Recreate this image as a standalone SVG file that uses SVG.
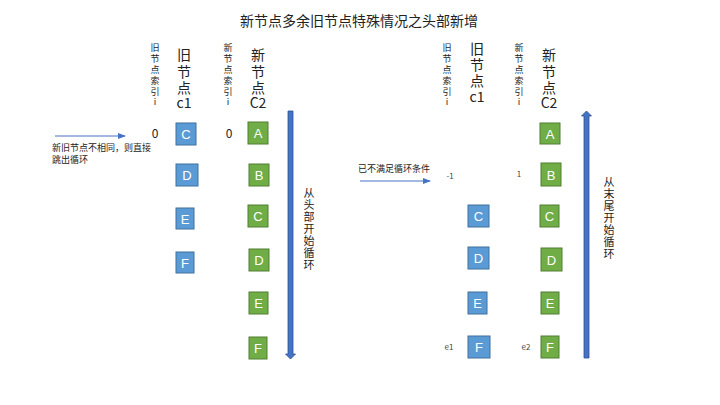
<svg xmlns="http://www.w3.org/2000/svg" width="720" height="405" viewBox="0 0 720 405">
<defs>
<style>
text{font-family:"Noto Sans CJK SC","Liberation Sans",sans-serif;fill:#222}
.title{font-size:14px}
.sm{font-size:9px}
.lg{font-size:14px}
.num{font-size:12px}
.tiny{font-size:8px;fill:#444}
.ob rect{fill:#5B9BD5;stroke:#41719C;stroke-width:1}
.nb rect{fill:#70AD47;stroke:#507E32;stroke-width:1}
.box text{fill:#fff;font-size:13px;text-anchor:middle;font-family:"Liberation Sans","Noto Sans CJK SC",sans-serif}
.v{text-anchor:middle}
</style>
<marker id="ah" markerWidth="8" markerHeight="6" refX="7" refY="3" orient="auto" markerUnits="userSpaceOnUse">
<path d="M0,0 L8,3 L0,6 z" fill="#4472C4"/>
</marker>
</defs>
<rect width="720" height="405" fill="#fff"/>
<text class="title" x="359" y="26" text-anchor="middle">新节点多余旧节点特殊情况之头部新增</text>

<!-- Left headers -->
<g id="left-headers">
<text class="sm v"><tspan x="155" y="51">旧</tspan><tspan x="155" y="62">节</tspan><tspan x="155" y="73">点</tspan><tspan x="155" y="84">索</tspan><tspan x="155" y="95">引</tspan><tspan x="155" y="105">i</tspan></text>
<text class="lg v"><tspan x="184" y="60">旧</tspan><tspan x="184" y="77">节</tspan><tspan x="184" y="93">点</tspan><tspan x="184" y="108">c1</tspan></text>
<text class="sm v"><tspan x="228" y="51">新</tspan><tspan x="228" y="62">节</tspan><tspan x="228" y="73">点</tspan><tspan x="228" y="84">索</tspan><tspan x="228" y="95">引</tspan><tspan x="228" y="105">i</tspan></text>
<text class="lg v"><tspan x="258" y="60">新</tspan><tspan x="258" y="77">节</tspan><tspan x="258" y="93">点</tspan><tspan x="258" y="108">C2</tspan></text>
<text class="num v" x="155" y="138">0</text>
<text class="num v" x="229" y="138">0</text>
</g>

<!-- Right headers -->
<g id="right-headers">
<text class="sm v"><tspan x="447" y="51">旧</tspan><tspan x="447" y="62">节</tspan><tspan x="447" y="73">点</tspan><tspan x="447" y="84">索</tspan><tspan x="447" y="95">引</tspan><tspan x="447" y="105">i</tspan></text>
<text class="lg v"><tspan x="477" y="54">旧</tspan><tspan x="477" y="70">节</tspan><tspan x="477" y="86">点</tspan><tspan x="477" y="102">c1</tspan></text>
<text class="sm v"><tspan x="519" y="51">新</tspan><tspan x="519" y="62">节</tspan><tspan x="519" y="73">点</tspan><tspan x="519" y="84">索</tspan><tspan x="519" y="95">引</tspan><tspan x="519" y="105">i</tspan></text>
<text class="lg v"><tspan x="549" y="60">新</tspan><tspan x="549" y="77">节</tspan><tspan x="549" y="93">点</tspan><tspan x="549" y="108">C2</tspan></text>
<text class="tiny v" x="450" y="179">-1</text>
<text class="tiny v" x="519" y="177">1</text>
<text class="tiny v" x="449" y="350">e1</text>
<text class="tiny v" x="526" y="350">e2</text>
</g>

<!-- Left old nodes -->
<g id="L-old-C" class="box ob"><rect x="176" y="123" width="20" height="22"/><text x="186" y="139">C</text></g>
<g id="L-old-D" class="box ob"><rect x="176" y="164" width="22" height="22"/><text x="187" y="180">D</text></g>
<g id="L-old-E" class="box ob"><rect x="176" y="208" width="18" height="21"/><text x="185" y="224">E</text></g>
<g id="L-old-F" class="box ob"><rect x="176" y="252" width="18" height="21"/><text x="185" y="268">F</text></g>

<!-- Left new nodes -->
<g id="L-new-A" class="box nb"><rect x="248" y="122" width="20" height="22"/><text x="258" y="138">A</text></g>
<g id="L-new-B" class="box nb"><rect x="249" y="164" width="20" height="22"/><text x="259" y="180">B</text></g>
<g id="L-new-C" class="box nb"><rect x="248" y="205" width="20" height="22"/><text x="258" y="221">C</text></g>
<g id="L-new-D" class="box nb"><rect x="249" y="249" width="20" height="22"/><text x="259" y="265">D</text></g>
<g id="L-new-E" class="box nb"><rect x="249" y="292" width="19" height="22"/><text x="258.5" y="308">E</text></g>
<g id="L-new-F" class="box nb"><rect x="249" y="337" width="18" height="22"/><text x="258" y="353">F</text></g>

<!-- Right old nodes -->
<g id="R-old-C" class="box ob"><rect x="468" y="205" width="21" height="22"/><text x="478.5" y="221">C</text></g>
<g id="R-old-D" class="box ob"><rect x="468" y="247" width="21" height="22"/><text x="478.5" y="263">D</text></g>
<g id="R-old-E" class="box ob"><rect x="468" y="292" width="19" height="22"/><text x="477.5" y="308">E</text></g>
<g id="R-old-F" class="box ob"><rect x="468" y="336" width="22" height="22"/><text x="479" y="352">F</text></g>

<!-- Right new nodes -->
<g id="R-new-A" class="box nb"><rect x="540" y="123" width="20" height="21"/><text x="550" y="139">A</text></g>
<g id="R-new-B" class="box nb"><rect x="541" y="163" width="20" height="23"/><text x="551" y="180">B</text></g>
<g id="R-new-C" class="box nb"><rect x="540" y="205" width="19" height="22"/><text x="549.5" y="221">C</text></g>
<g id="R-new-D" class="box nb"><rect x="541" y="248" width="21" height="23"/><text x="551.5" y="265">D</text></g>
<g id="R-new-E" class="box nb"><rect x="541" y="292" width="18" height="22"/><text x="550" y="308">E</text></g>
<g id="R-new-F" class="box nb"><rect x="541" y="336" width="18" height="22"/><text x="550" y="352">F</text></g>

<!-- Connectors -->
<g id="connectors">
<line x1="55" y1="136" x2="125" y2="136" stroke="#4472C4" stroke-width="1" marker-end="url(#ah)"/>
<line x1="360" y1="181" x2="430" y2="181" stroke="#4472C4" stroke-width="1" marker-end="url(#ah)"/>
<path d="M288,111 H293 V354 H295.5 L290.5,359 L285.5,354 H288 Z" fill="#4472C4" stroke="#2F528F" stroke-width="0.8"/>
<path d="M584,358 H589 V116 H591.5 L586.5,111 L581.5,116 H584 Z" fill="#4472C4" stroke="#2F528F" stroke-width="0.8"/>
</g>

<!-- Labels -->
<g id="labels">
<text class="sm" x="52" y="151">新旧节点不相同，则直接</text>
<text class="sm" x="52" y="163">跳出循环</text>
<text class="sm" x="358" y="172">已不满足循环条件</text>
<text class="v" style="font-size:11px"><tspan x="309" y="197">从</tspan><tspan x="309" y="209">头</tspan><tspan x="309" y="221">部</tspan><tspan x="309" y="233">开</tspan><tspan x="309" y="245">始</tspan><tspan x="309" y="257">循</tspan><tspan x="309" y="269">环</tspan></text>
<text class="v" style="font-size:11px"><tspan x="609" y="186">从</tspan><tspan x="609" y="198">末</tspan><tspan x="609" y="210">尾</tspan><tspan x="609" y="222">开</tspan><tspan x="609" y="234">始</tspan><tspan x="609" y="246">循</tspan><tspan x="609" y="258">环</tspan></text>
</g>
</svg>
